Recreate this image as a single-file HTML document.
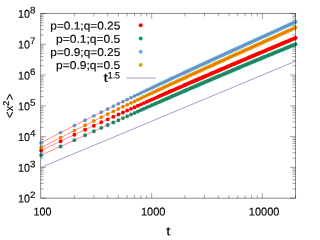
<!DOCTYPE html>
<html><head><meta charset="utf-8"><title>plot</title>
<style>
html,body{margin:0;padding:0;background:#fff;}
body{width:320px;height:240px;overflow:hidden;}
svg{display:block;will-change:transform;filter:brightness(1);}
text{font-family:"Liberation Sans",sans-serif;fill:#000;stroke:#000;stroke-width:0.13px;}
</style></head><body>
<svg width="320" height="240" viewBox="0 0 320 240">
<rect width="320" height="240" fill="#fff"/>
<path d="M40.65 198.20h5.5M295.5 198.20h-5.5M40.65 188.93h3.0M295.5 188.93h-3.0M40.65 183.51h3.0M295.5 183.51h-3.0M40.65 179.66h3.0M295.5 179.66h-3.0M40.65 176.68h3.0M295.5 176.68h-3.0M40.65 174.24h3.0M295.5 174.24h-3.0M40.65 172.18h3.0M295.5 172.18h-3.0M40.65 170.39h3.0M295.5 170.39h-3.0M40.65 168.82h3.0M295.5 168.82h-3.0M40.65 167.41h5.5M295.5 167.41h-5.5M40.65 158.14h3.0M295.5 158.14h-3.0M40.65 152.72h3.0M295.5 152.72h-3.0M40.65 148.87h3.0M295.5 148.87h-3.0M40.65 145.89h3.0M295.5 145.89h-3.0M40.65 143.45h3.0M295.5 143.45h-3.0M40.65 141.39h3.0M295.5 141.39h-3.0M40.65 139.60h3.0M295.5 139.60h-3.0M40.65 138.03h3.0M295.5 138.03h-3.0M40.65 136.62h5.5M295.5 136.62h-5.5M40.65 127.35h3.0M295.5 127.35h-3.0M40.65 121.93h3.0M295.5 121.93h-3.0M40.65 118.08h3.0M295.5 118.08h-3.0M40.65 115.09h3.0M295.5 115.09h-3.0M40.65 112.66h3.0M295.5 112.66h-3.0M40.65 110.59h3.0M295.5 110.59h-3.0M40.65 108.81h3.0M295.5 108.81h-3.0M40.65 107.23h3.0M295.5 107.23h-3.0M40.65 105.82h5.5M295.5 105.82h-5.5M40.65 96.56h3.0M295.5 96.56h-3.0M40.65 91.13h3.0M295.5 91.13h-3.0M40.65 87.29h3.0M295.5 87.29h-3.0M40.65 84.30h3.0M295.5 84.30h-3.0M40.65 81.86h3.0M295.5 81.86h-3.0M40.65 79.80h3.0M295.5 79.80h-3.0M40.65 78.02h3.0M295.5 78.02h-3.0M40.65 76.44h3.0M295.5 76.44h-3.0M40.65 75.03h5.5M295.5 75.03h-5.5M40.65 65.76h3.0M295.5 65.76h-3.0M40.65 60.34h3.0M295.5 60.34h-3.0M40.65 56.49h3.0M295.5 56.49h-3.0M40.65 53.51h3.0M295.5 53.51h-3.0M40.65 51.07h3.0M295.5 51.07h-3.0M40.65 49.01h3.0M295.5 49.01h-3.0M40.65 47.23h3.0M295.5 47.23h-3.0M40.65 45.65h3.0M295.5 45.65h-3.0M40.65 44.24h5.5M295.5 44.24h-5.5M40.65 34.97h3.0M295.5 34.97h-3.0M40.65 29.55h3.0M295.5 29.55h-3.0M40.65 25.70h3.0M295.5 25.70h-3.0M40.65 22.72h3.0M295.5 22.72h-3.0M40.65 20.28h3.0M295.5 20.28h-3.0M40.65 18.22h3.0M295.5 18.22h-3.0M40.65 16.43h3.0M295.5 16.43h-3.0M40.65 14.86h3.0M295.5 14.86h-3.0M40.65 13.45h5.5M295.5 13.45h-5.5M74.39 198.2v-3.0M74.39 13.45v3.0M93.87 198.2v-3.0M93.87 13.45v3.0M107.69 198.2v-3.0M107.69 13.45v3.0M118.41 198.2v-3.0M118.41 13.45v3.0M127.17 198.2v-3.0M127.17 13.45v3.0M134.57 198.2v-3.0M134.57 13.45v3.0M140.98 198.2v-3.0M140.98 13.45v3.0M146.64 198.2v-3.0M146.64 13.45v3.0M151.70 198.2v-5.5M151.70 13.45v5.5M185.00 198.2v-3.0M185.00 13.45v3.0M204.47 198.2v-3.0M204.47 13.45v3.0M218.29 198.2v-3.0M218.29 13.45v3.0M229.01 198.2v-3.0M229.01 13.45v3.0M237.77 198.2v-3.0M237.77 13.45v3.0M245.17 198.2v-3.0M245.17 13.45v3.0M251.59 198.2v-3.0M251.59 13.45v3.0M257.24 198.2v-3.0M257.24 13.45v3.0M262.31 198.2v-5.5M262.31 13.45v5.5M295.60 198.2v-3.0M295.60 13.45v3.0" stroke="#000" stroke-opacity="0.45" stroke-width="0.8" fill="none"/>
<path fill="#ff0000" d="M39.15 150.43a1.95 1.95 0 1 0 3.9 0a1.95 1.95 0 1 0 -3.9 0zM58.63 141.18a1.95 1.95 0 1 0 3.9 0a1.95 1.95 0 1 0 -3.9 0zM72.44 134.71a1.95 1.95 0 1 0 3.9 0a1.95 1.95 0 1 0 -3.9 0zM83.16 129.73a1.95 1.95 0 1 0 3.9 0a1.95 1.95 0 1 0 -3.9 0zM91.92 125.69a1.95 1.95 0 1 0 3.9 0a1.95 1.95 0 1 0 -3.9 0zM99.33 122.30a1.95 1.95 0 1 0 3.9 0a1.95 1.95 0 1 0 -3.9 0zM105.74 119.37a1.95 1.95 0 1 0 3.9 0a1.95 1.95 0 1 0 -3.9 0zM111.40 116.80a1.95 1.95 0 1 0 3.9 0a1.95 1.95 0 1 0 -3.9 0zM116.46 114.51a1.95 1.95 0 1 0 3.9 0a1.95 1.95 0 1 0 -3.9 0zM121.04 112.45a1.95 1.95 0 1 0 3.9 0a1.95 1.95 0 1 0 -3.9 0zM125.22 110.57a1.95 1.95 0 1 0 3.9 0a1.95 1.95 0 1 0 -3.9 0zM129.06 108.84a1.95 1.95 0 1 0 3.9 0a1.95 1.95 0 1 0 -3.9 0zM132.62 107.25a1.95 1.95 0 1 0 3.9 0a1.95 1.95 0 1 0 -3.9 0zM135.93 105.77a1.95 1.95 0 1 0 3.9 0a1.95 1.95 0 1 0 -3.9 0zM139.03 104.38a1.95 1.95 0 1 0 3.9 0a1.95 1.95 0 1 0 -3.9 0zM141.95 103.09a1.95 1.95 0 1 0 3.9 0a1.95 1.95 0 1 0 -3.9 0zM144.69 101.87a1.95 1.95 0 1 0 3.9 0a1.95 1.95 0 1 0 -3.9 0zM147.29 100.72a1.95 1.95 0 1 0 3.9 0a1.95 1.95 0 1 0 -3.9 0zM149.75 99.62a1.95 1.95 0 1 0 3.9 0a1.95 1.95 0 1 0 -3.9 0zM152.10 98.59a1.95 1.95 0 1 0 3.9 0a1.95 1.95 0 1 0 -3.9 0zM154.33 97.60a1.95 1.95 0 1 0 3.9 0a1.95 1.95 0 1 0 -3.9 0zM156.47 96.66a1.95 1.95 0 1 0 3.9 0a1.95 1.95 0 1 0 -3.9 0zM158.51 95.76a1.95 1.95 0 1 0 3.9 0a1.95 1.95 0 1 0 -3.9 0zM160.47 94.89a1.95 1.95 0 1 0 3.9 0a1.95 1.95 0 1 0 -3.9 0zM162.36 94.06a1.95 1.95 0 1 0 3.9 0a1.95 1.95 0 1 0 -3.9 0zM164.17 93.27a1.95 1.95 0 1 0 3.9 0a1.95 1.95 0 1 0 -3.9 0zM165.91 92.50a1.95 1.95 0 1 0 3.9 0a1.95 1.95 0 1 0 -3.9 0zM167.60 91.76a1.95 1.95 0 1 0 3.9 0a1.95 1.95 0 1 0 -3.9 0zM169.23 91.05a1.95 1.95 0 1 0 3.9 0a1.95 1.95 0 1 0 -3.9 0zM170.80 90.36a1.95 1.95 0 1 0 3.9 0a1.95 1.95 0 1 0 -3.9 0zM172.33 89.69a1.95 1.95 0 1 0 3.9 0a1.95 1.95 0 1 0 -3.9 0zM173.81 89.04a1.95 1.95 0 1 0 3.9 0a1.95 1.95 0 1 0 -3.9 0zM175.24 88.42a1.95 1.95 0 1 0 3.9 0a1.95 1.95 0 1 0 -3.9 0zM176.63 87.81a1.95 1.95 0 1 0 3.9 0a1.95 1.95 0 1 0 -3.9 0zM177.99 87.22a1.95 1.95 0 1 0 3.9 0a1.95 1.95 0 1 0 -3.9 0zM179.30 86.65a1.95 1.95 0 1 0 3.9 0a1.95 1.95 0 1 0 -3.9 0zM180.58 86.09a1.95 1.95 0 1 0 3.9 0a1.95 1.95 0 1 0 -3.9 0zM181.83 85.55a1.95 1.95 0 1 0 3.9 0a1.95 1.95 0 1 0 -3.9 0zM183.05 85.02a1.95 1.95 0 1 0 3.9 0a1.95 1.95 0 1 0 -3.9 0z"/>
<path fill="none" stroke="#ff0000" stroke-width="3.9" stroke-linecap="round" stroke-linejoin="round" d="M185.00 85.02L190.65 82.56L195.72 80.37L200.29 78.39L204.47 76.59L208.32 74.93L211.88 73.40L215.19 71.98L218.29 70.65L221.20 69.40L223.95 68.23L226.55 67.12L229.01 66.06L231.35 65.07L233.59 64.11L235.72 63.20L237.77 62.33L239.73 61.50L241.61 60.70L243.43 59.93L245.17 59.19L246.86 58.47L248.49 57.78L250.06 57.12L251.59 56.47L253.06 55.85L254.50 55.24L255.89 54.65L257.24 54.08L258.56 53.52L259.84 52.98L261.09 52.45L262.31 51.94L263.49 51.44L264.65 50.95L265.78 50.48L266.88 50.01L267.96 49.56L269.02 49.11L270.05 48.68L271.06 48.25L272.05 47.83L273.02 47.42L273.97 47.02L274.91 46.63L275.82 46.25L276.72 45.87L277.60 45.50L278.47 45.14L279.32 44.78L280.15 44.43L280.97 44.08L281.78 43.74L282.58 43.41L283.36 43.08L284.13 42.76L284.88 42.44L285.63 42.13L286.36 41.82L287.08 41.52L287.79 41.22L288.49 40.93L289.19 40.64L289.87 40.35L290.54 40.07L291.20 39.79L291.86 39.52L292.50 39.25L293.14 38.98L293.76 38.72L294.38 38.46L295.00 38.20L295.60 37.95"/>
<path d="M41.10 150.43L60.58 141.18L74.39 134.71L85.11 129.73L93.87 125.69L101.28 122.30L107.69 119.37L113.35 116.80L118.41 114.51L122.99 112.45L127.17 110.57L131.01 108.84L134.57 107.25L137.88 105.77L140.98 104.38L143.90 103.09L146.64 101.87L149.24 100.72L151.70 99.62L154.05 98.59L156.28 97.60L158.42 96.66L160.46 95.76L162.42 94.89L164.31 94.06L166.12 93.27L167.86 92.50L169.55 91.76L171.18 91.05L172.75 90.36L174.28 89.69L175.76 89.04L177.19 88.42L178.58 87.81L179.94 87.22L181.25 86.65L182.53 86.09L183.78 85.55L185.00 85.02L186.18 84.50L187.34 84.00L195.72 80.37L202.85 77.29L209.05 74.61L214.55 72.25L219.48 70.14L223.95 68.23L228.04 66.48L231.81 64.87L235.30 63.38L238.56 62.00L241.61 60.70L244.48 59.48L247.19 58.33L249.75 57.25L252.18 56.22L254.50 55.24L256.71 54.30L258.82 53.41L260.84 52.56L262.78 51.74L264.65 50.95L266.44 50.20L268.18 49.47L269.85 48.76L271.46 48.08L273.02 47.42L274.54 46.79L276.00 46.17L277.43 45.57L278.81 44.99L280.15 44.43L281.46 43.88L282.73 43.34L283.97 42.82L285.18 42.32L286.36 41.82L287.51 41.34L288.63 40.87L289.73 40.41L290.81 39.96L291.86 39.52L292.88 39.09L293.89 38.67L294.87 38.25L295.60 37.95" stroke="#ff0000" stroke-opacity="0.9" stroke-width="0.5" fill="none"/>
<path fill="#009e73" d="M39.15 155.28a1.95 1.95 0 1 0 3.9 0a1.95 1.95 0 1 0 -3.9 0zM58.63 146.45a1.95 1.95 0 1 0 3.9 0a1.95 1.95 0 1 0 -3.9 0zM72.44 140.15a1.95 1.95 0 1 0 3.9 0a1.95 1.95 0 1 0 -3.9 0zM83.16 135.26a1.95 1.95 0 1 0 3.9 0a1.95 1.95 0 1 0 -3.9 0zM91.92 131.28a1.95 1.95 0 1 0 3.9 0a1.95 1.95 0 1 0 -3.9 0zM99.33 127.92a1.95 1.95 0 1 0 3.9 0a1.95 1.95 0 1 0 -3.9 0zM105.74 125.01a1.95 1.95 0 1 0 3.9 0a1.95 1.95 0 1 0 -3.9 0zM111.40 122.46a1.95 1.95 0 1 0 3.9 0a1.95 1.95 0 1 0 -3.9 0zM116.46 120.18a1.95 1.95 0 1 0 3.9 0a1.95 1.95 0 1 0 -3.9 0zM121.04 118.12a1.95 1.95 0 1 0 3.9 0a1.95 1.95 0 1 0 -3.9 0zM125.22 116.25a1.95 1.95 0 1 0 3.9 0a1.95 1.95 0 1 0 -3.9 0zM129.06 114.53a1.95 1.95 0 1 0 3.9 0a1.95 1.95 0 1 0 -3.9 0zM132.62 112.93a1.95 1.95 0 1 0 3.9 0a1.95 1.95 0 1 0 -3.9 0zM135.93 111.46a1.95 1.95 0 1 0 3.9 0a1.95 1.95 0 1 0 -3.9 0zM139.03 110.08a1.95 1.95 0 1 0 3.9 0a1.95 1.95 0 1 0 -3.9 0zM141.95 108.78a1.95 1.95 0 1 0 3.9 0a1.95 1.95 0 1 0 -3.9 0zM144.69 107.56a1.95 1.95 0 1 0 3.9 0a1.95 1.95 0 1 0 -3.9 0zM147.29 106.41a1.95 1.95 0 1 0 3.9 0a1.95 1.95 0 1 0 -3.9 0zM149.75 105.32a1.95 1.95 0 1 0 3.9 0a1.95 1.95 0 1 0 -3.9 0zM152.10 104.29a1.95 1.95 0 1 0 3.9 0a1.95 1.95 0 1 0 -3.9 0zM154.33 103.30a1.95 1.95 0 1 0 3.9 0a1.95 1.95 0 1 0 -3.9 0zM156.47 102.36a1.95 1.95 0 1 0 3.9 0a1.95 1.95 0 1 0 -3.9 0zM158.51 101.46a1.95 1.95 0 1 0 3.9 0a1.95 1.95 0 1 0 -3.9 0zM160.47 100.60a1.95 1.95 0 1 0 3.9 0a1.95 1.95 0 1 0 -3.9 0zM162.36 99.77a1.95 1.95 0 1 0 3.9 0a1.95 1.95 0 1 0 -3.9 0zM164.17 98.97a1.95 1.95 0 1 0 3.9 0a1.95 1.95 0 1 0 -3.9 0zM165.91 98.21a1.95 1.95 0 1 0 3.9 0a1.95 1.95 0 1 0 -3.9 0zM167.60 97.47a1.95 1.95 0 1 0 3.9 0a1.95 1.95 0 1 0 -3.9 0zM169.23 96.75a1.95 1.95 0 1 0 3.9 0a1.95 1.95 0 1 0 -3.9 0zM170.80 96.07a1.95 1.95 0 1 0 3.9 0a1.95 1.95 0 1 0 -3.9 0zM172.33 95.40a1.95 1.95 0 1 0 3.9 0a1.95 1.95 0 1 0 -3.9 0zM173.81 94.75a1.95 1.95 0 1 0 3.9 0a1.95 1.95 0 1 0 -3.9 0zM175.24 94.13a1.95 1.95 0 1 0 3.9 0a1.95 1.95 0 1 0 -3.9 0zM176.63 93.52a1.95 1.95 0 1 0 3.9 0a1.95 1.95 0 1 0 -3.9 0zM177.99 92.93a1.95 1.95 0 1 0 3.9 0a1.95 1.95 0 1 0 -3.9 0zM179.30 92.36a1.95 1.95 0 1 0 3.9 0a1.95 1.95 0 1 0 -3.9 0zM180.58 91.80a1.95 1.95 0 1 0 3.9 0a1.95 1.95 0 1 0 -3.9 0zM181.83 91.26a1.95 1.95 0 1 0 3.9 0a1.95 1.95 0 1 0 -3.9 0zM183.05 90.73a1.95 1.95 0 1 0 3.9 0a1.95 1.95 0 1 0 -3.9 0z"/>
<path fill="none" stroke="#009e73" stroke-width="3.9" stroke-linecap="round" stroke-linejoin="round" d="M185.00 90.73L190.65 88.28L195.72 86.09L200.29 84.12L204.47 82.32L208.32 80.67L211.88 79.15L215.19 77.73L218.29 76.41L221.20 75.17L223.95 74.01L226.55 72.90L229.01 71.86L231.35 70.87L233.59 69.92L235.72 69.02L237.77 68.16L239.73 67.34L241.61 66.54L243.43 65.78L245.17 65.05L246.86 64.34L248.49 63.66L250.06 63.00L251.59 62.36L253.06 61.75L254.50 61.15L255.89 60.57L257.24 60.00L258.56 59.45L259.84 58.92L261.09 58.40L262.31 57.90L263.49 57.40L264.65 56.92L265.78 56.45L266.88 56.00L267.96 55.55L269.02 55.11L270.05 54.68L271.06 54.27L272.05 53.86L273.02 53.46L273.97 53.06L274.91 52.68L275.82 52.30L276.72 51.93L277.60 51.57L278.47 51.21L279.32 50.86L280.15 50.52L280.97 50.18L281.78 49.85L282.58 49.52L283.36 49.20L284.13 48.88L284.88 48.57L285.63 48.27L286.36 47.97L287.08 47.67L287.79 47.38L288.49 47.09L289.19 46.81L289.87 46.53L290.54 46.26L291.20 45.99L291.86 45.72L292.50 45.46L293.14 45.20L293.76 44.94L294.38 44.69L295.00 44.44L295.60 44.19"/>
<path d="M41.10 155.28L60.58 146.45L74.39 140.15L85.11 135.26L93.87 131.28L101.28 127.92L107.69 125.01L113.35 122.46L118.41 120.18L122.99 118.12L127.17 116.25L131.01 114.53L134.57 112.93L137.88 111.46L140.98 110.08L143.90 108.78L146.64 107.56L149.24 106.41L151.70 105.32L154.05 104.29L156.28 103.30L158.42 102.36L160.46 101.46L162.42 100.60L164.31 99.77L166.12 98.97L167.86 98.21L169.55 97.47L171.18 96.75L172.75 96.07L174.28 95.40L175.76 94.75L177.19 94.13L178.58 93.52L179.94 92.93L181.25 92.36L182.53 91.80L183.78 91.26L185.00 90.73L186.18 90.22L187.34 89.71L195.72 86.09L202.85 83.02L209.05 80.36L214.55 78.01L219.48 75.91L223.95 74.01L228.04 72.27L231.81 70.68L235.30 69.20L238.56 67.83L241.61 66.54L244.48 65.34L247.19 64.20L249.75 63.13L252.18 62.11L254.50 61.15L256.71 60.23L258.82 59.35L260.84 58.50L262.78 57.70L264.65 56.92L266.44 56.18L268.18 55.46L269.85 54.77L271.46 54.10L273.02 53.46L274.54 52.83L276.00 52.23L277.43 51.64L278.81 51.07L280.15 50.52L281.46 49.98L282.73 49.46L283.97 48.95L285.18 48.45L286.36 47.97L287.51 47.50L288.63 47.04L289.73 46.59L290.81 46.15L291.86 45.72L292.88 45.30L293.89 44.89L294.87 44.49L295.60 44.19" stroke="#ff0000" stroke-opacity="0.9" stroke-width="0.5" fill="none"/>
<path fill="#56b4e9" d="M39.15 142.73a1.95 1.95 0 1 0 3.9 0a1.95 1.95 0 1 0 -3.9 0zM58.63 132.61a1.95 1.95 0 1 0 3.9 0a1.95 1.95 0 1 0 -3.9 0zM72.44 125.57a1.95 1.95 0 1 0 3.9 0a1.95 1.95 0 1 0 -3.9 0zM83.16 120.18a1.95 1.95 0 1 0 3.9 0a1.95 1.95 0 1 0 -3.9 0zM91.92 115.83a1.95 1.95 0 1 0 3.9 0a1.95 1.95 0 1 0 -3.9 0zM99.33 112.17a1.95 1.95 0 1 0 3.9 0a1.95 1.95 0 1 0 -3.9 0zM105.74 109.03a1.95 1.95 0 1 0 3.9 0a1.95 1.95 0 1 0 -3.9 0zM111.40 106.27a1.95 1.95 0 1 0 3.9 0a1.95 1.95 0 1 0 -3.9 0zM116.46 103.81a1.95 1.95 0 1 0 3.9 0a1.95 1.95 0 1 0 -3.9 0zM121.04 101.60a1.95 1.95 0 1 0 3.9 0a1.95 1.95 0 1 0 -3.9 0zM125.22 99.59a1.95 1.95 0 1 0 3.9 0a1.95 1.95 0 1 0 -3.9 0zM129.06 97.75a1.95 1.95 0 1 0 3.9 0a1.95 1.95 0 1 0 -3.9 0zM132.62 96.05a1.95 1.95 0 1 0 3.9 0a1.95 1.95 0 1 0 -3.9 0zM135.93 94.46a1.95 1.95 0 1 0 3.9 0a1.95 1.95 0 1 0 -3.9 0zM139.03 92.99a1.95 1.95 0 1 0 3.9 0a1.95 1.95 0 1 0 -3.9 0zM141.95 91.61a1.95 1.95 0 1 0 3.9 0a1.95 1.95 0 1 0 -3.9 0zM144.69 90.31a1.95 1.95 0 1 0 3.9 0a1.95 1.95 0 1 0 -3.9 0zM147.29 89.08a1.95 1.95 0 1 0 3.9 0a1.95 1.95 0 1 0 -3.9 0zM149.75 87.92a1.95 1.95 0 1 0 3.9 0a1.95 1.95 0 1 0 -3.9 0zM152.10 86.81a1.95 1.95 0 1 0 3.9 0a1.95 1.95 0 1 0 -3.9 0zM154.33 85.76a1.95 1.95 0 1 0 3.9 0a1.95 1.95 0 1 0 -3.9 0zM156.47 84.76a1.95 1.95 0 1 0 3.9 0a1.95 1.95 0 1 0 -3.9 0zM158.51 83.80a1.95 1.95 0 1 0 3.9 0a1.95 1.95 0 1 0 -3.9 0zM160.47 82.88a1.95 1.95 0 1 0 3.9 0a1.95 1.95 0 1 0 -3.9 0zM162.36 82.00a1.95 1.95 0 1 0 3.9 0a1.95 1.95 0 1 0 -3.9 0zM164.17 81.15a1.95 1.95 0 1 0 3.9 0a1.95 1.95 0 1 0 -3.9 0zM165.91 80.33a1.95 1.95 0 1 0 3.9 0a1.95 1.95 0 1 0 -3.9 0zM167.60 79.55a1.95 1.95 0 1 0 3.9 0a1.95 1.95 0 1 0 -3.9 0zM169.23 78.79a1.95 1.95 0 1 0 3.9 0a1.95 1.95 0 1 0 -3.9 0zM170.80 78.06a1.95 1.95 0 1 0 3.9 0a1.95 1.95 0 1 0 -3.9 0zM172.33 77.35a1.95 1.95 0 1 0 3.9 0a1.95 1.95 0 1 0 -3.9 0zM173.81 76.66a1.95 1.95 0 1 0 3.9 0a1.95 1.95 0 1 0 -3.9 0zM175.24 75.99a1.95 1.95 0 1 0 3.9 0a1.95 1.95 0 1 0 -3.9 0zM176.63 75.35a1.95 1.95 0 1 0 3.9 0a1.95 1.95 0 1 0 -3.9 0zM177.99 74.72a1.95 1.95 0 1 0 3.9 0a1.95 1.95 0 1 0 -3.9 0zM179.30 74.11a1.95 1.95 0 1 0 3.9 0a1.95 1.95 0 1 0 -3.9 0zM180.58 73.51a1.95 1.95 0 1 0 3.9 0a1.95 1.95 0 1 0 -3.9 0zM181.83 72.94a1.95 1.95 0 1 0 3.9 0a1.95 1.95 0 1 0 -3.9 0zM183.05 72.37a1.95 1.95 0 1 0 3.9 0a1.95 1.95 0 1 0 -3.9 0z"/>
<path fill="none" stroke="#56b4e9" stroke-width="3.9" stroke-linecap="round" stroke-linejoin="round" d="M185.00 72.37L190.65 69.76L195.72 67.43L200.29 65.32L204.47 63.40L208.32 61.64L211.88 60.01L215.19 58.50L218.29 57.08L221.20 55.75L223.95 54.50L226.55 53.31L229.01 52.19L231.35 51.12L233.59 50.10L235.72 49.13L237.77 48.20L239.73 47.31L241.61 46.45L243.43 45.63L245.17 44.83L246.86 44.07L248.49 43.33L250.06 42.61L251.59 41.92L253.06 41.25L254.50 40.59L255.89 39.96L257.24 39.35L258.56 38.75L259.84 38.17L261.09 37.60L262.31 37.05L263.49 36.51L264.65 35.98L265.78 35.47L266.88 34.97L267.96 34.47L269.02 33.99L270.05 33.53L271.06 33.07L272.05 32.62L273.02 32.17L273.97 31.74L274.91 31.32L275.82 30.90L276.72 30.49L277.60 30.09L278.47 29.70L279.32 29.31L280.15 28.93L280.97 28.56L281.78 28.19L282.58 27.83L283.36 27.47L284.13 27.12L284.88 26.78L285.63 26.44L286.36 26.10L287.08 25.78L287.79 25.45L288.49 25.13L289.19 24.82L289.87 24.51L290.54 24.20L291.20 23.90L291.86 23.60L292.50 23.30L293.14 23.01L293.76 22.73L294.38 22.45L295.00 22.17L295.60 21.89"/>
<path d="M41.10 142.73L60.58 132.61L74.39 125.57L85.11 120.18L93.87 115.83L101.28 112.17L107.69 109.03L113.35 106.27L118.41 103.81L122.99 101.60L127.17 99.59L131.01 97.75L134.57 96.05L137.88 94.46L140.98 92.99L143.90 91.61L146.64 90.31L149.24 89.08L151.70 87.92L154.05 86.81L156.28 85.76L158.42 84.76L160.46 83.80L162.42 82.88L164.31 82.00L166.12 81.15L167.86 80.33L169.55 79.55L171.18 78.79L172.75 78.06L174.28 77.35L175.76 76.66L177.19 75.99L178.58 75.35L179.94 74.72L181.25 74.11L182.53 73.51L183.78 72.94L185.00 72.37L186.18 71.83L187.34 71.29L195.72 67.43L202.85 64.15L209.05 61.31L214.55 58.79L219.48 56.54L223.95 54.50L228.04 52.63L231.81 50.91L235.30 49.32L238.56 47.84L241.61 46.45L244.48 45.15L247.19 43.92L249.75 42.75L252.18 41.65L254.50 40.59L256.71 39.59L258.82 38.63L260.84 37.71L262.78 36.83L264.65 35.98L266.44 35.16L268.18 34.38L269.85 33.62L271.46 32.88L273.02 32.17L274.54 31.49L276.00 30.82L277.43 30.17L278.81 29.54L280.15 28.93L281.46 28.34L282.73 27.76L283.97 27.19L285.18 26.64L286.36 26.10L287.51 25.58L288.63 25.07L289.73 24.57L290.81 24.08L291.86 23.60L292.88 23.13L293.89 22.67L294.87 22.22L295.60 21.89" stroke="#ff0000" stroke-opacity="0.9" stroke-width="0.5" fill="none"/>
<path fill="#e69f00" d="M39.15 147.67a1.95 1.95 0 1 0 3.9 0a1.95 1.95 0 1 0 -3.9 0zM58.63 137.60a1.95 1.95 0 1 0 3.9 0a1.95 1.95 0 1 0 -3.9 0zM72.44 130.60a1.95 1.95 0 1 0 3.9 0a1.95 1.95 0 1 0 -3.9 0zM83.16 125.24a1.95 1.95 0 1 0 3.9 0a1.95 1.95 0 1 0 -3.9 0zM91.92 120.90a1.95 1.95 0 1 0 3.9 0a1.95 1.95 0 1 0 -3.9 0zM99.33 117.27a1.95 1.95 0 1 0 3.9 0a1.95 1.95 0 1 0 -3.9 0zM105.74 114.14a1.95 1.95 0 1 0 3.9 0a1.95 1.95 0 1 0 -3.9 0zM111.40 111.39a1.95 1.95 0 1 0 3.9 0a1.95 1.95 0 1 0 -3.9 0zM116.46 108.95a1.95 1.95 0 1 0 3.9 0a1.95 1.95 0 1 0 -3.9 0zM121.04 106.75a1.95 1.95 0 1 0 3.9 0a1.95 1.95 0 1 0 -3.9 0zM125.22 104.75a1.95 1.95 0 1 0 3.9 0a1.95 1.95 0 1 0 -3.9 0zM129.06 102.92a1.95 1.95 0 1 0 3.9 0a1.95 1.95 0 1 0 -3.9 0zM132.62 101.22a1.95 1.95 0 1 0 3.9 0a1.95 1.95 0 1 0 -3.9 0zM135.93 99.65a1.95 1.95 0 1 0 3.9 0a1.95 1.95 0 1 0 -3.9 0zM139.03 98.19a1.95 1.95 0 1 0 3.9 0a1.95 1.95 0 1 0 -3.9 0zM141.95 96.81a1.95 1.95 0 1 0 3.9 0a1.95 1.95 0 1 0 -3.9 0zM144.69 95.52a1.95 1.95 0 1 0 3.9 0a1.95 1.95 0 1 0 -3.9 0zM147.29 94.30a1.95 1.95 0 1 0 3.9 0a1.95 1.95 0 1 0 -3.9 0zM149.75 93.14a1.95 1.95 0 1 0 3.9 0a1.95 1.95 0 1 0 -3.9 0zM152.10 92.04a1.95 1.95 0 1 0 3.9 0a1.95 1.95 0 1 0 -3.9 0zM154.33 91.00a1.95 1.95 0 1 0 3.9 0a1.95 1.95 0 1 0 -3.9 0zM156.47 90.00a1.95 1.95 0 1 0 3.9 0a1.95 1.95 0 1 0 -3.9 0zM158.51 89.04a1.95 1.95 0 1 0 3.9 0a1.95 1.95 0 1 0 -3.9 0zM160.47 88.13a1.95 1.95 0 1 0 3.9 0a1.95 1.95 0 1 0 -3.9 0zM162.36 87.25a1.95 1.95 0 1 0 3.9 0a1.95 1.95 0 1 0 -3.9 0zM164.17 86.41a1.95 1.95 0 1 0 3.9 0a1.95 1.95 0 1 0 -3.9 0zM165.91 85.60a1.95 1.95 0 1 0 3.9 0a1.95 1.95 0 1 0 -3.9 0zM167.60 84.82a1.95 1.95 0 1 0 3.9 0a1.95 1.95 0 1 0 -3.9 0zM169.23 84.06a1.95 1.95 0 1 0 3.9 0a1.95 1.95 0 1 0 -3.9 0zM170.80 83.33a1.95 1.95 0 1 0 3.9 0a1.95 1.95 0 1 0 -3.9 0zM172.33 82.63a1.95 1.95 0 1 0 3.9 0a1.95 1.95 0 1 0 -3.9 0zM173.81 81.95a1.95 1.95 0 1 0 3.9 0a1.95 1.95 0 1 0 -3.9 0zM175.24 81.28a1.95 1.95 0 1 0 3.9 0a1.95 1.95 0 1 0 -3.9 0zM176.63 80.64a1.95 1.95 0 1 0 3.9 0a1.95 1.95 0 1 0 -3.9 0zM177.99 80.02a1.95 1.95 0 1 0 3.9 0a1.95 1.95 0 1 0 -3.9 0zM179.30 79.41a1.95 1.95 0 1 0 3.9 0a1.95 1.95 0 1 0 -3.9 0zM180.58 78.82a1.95 1.95 0 1 0 3.9 0a1.95 1.95 0 1 0 -3.9 0zM181.83 78.25a1.95 1.95 0 1 0 3.9 0a1.95 1.95 0 1 0 -3.9 0zM183.05 77.69a1.95 1.95 0 1 0 3.9 0a1.95 1.95 0 1 0 -3.9 0z"/>
<path fill="none" stroke="#e69f00" stroke-width="3.9" stroke-linecap="round" stroke-linejoin="round" d="M185.00 77.69L190.65 75.09L195.72 72.77L200.29 70.68L204.47 68.77L208.32 67.02L211.88 65.40L215.19 63.90L218.29 62.49L221.20 61.17L223.95 59.93L226.55 58.75L229.01 57.64L231.35 56.58L233.59 55.57L235.72 54.60L237.77 53.68L239.73 52.79L241.61 51.94L243.43 51.12L245.17 50.34L246.86 49.58L248.49 48.84L250.06 48.13L251.59 47.44L253.06 46.78L254.50 46.13L255.89 45.50L257.24 44.89L258.56 44.30L259.84 43.72L261.09 43.16L262.31 42.61L263.49 42.08L264.65 41.56L265.78 41.05L266.88 40.55L267.96 40.06L269.02 39.59L270.05 39.12L271.06 38.66L272.05 38.22L273.02 37.78L273.97 37.35L274.91 36.93L275.82 36.52L276.72 36.11L277.60 35.72L278.47 35.33L279.32 34.94L280.15 34.57L280.97 34.20L281.78 33.83L282.58 33.47L283.36 33.12L284.13 32.77L284.88 32.43L285.63 32.10L286.36 31.76L287.08 31.44L287.79 31.12L288.49 30.80L289.19 30.49L289.87 30.18L290.54 29.88L291.20 29.58L291.86 29.28L292.50 28.99L293.14 28.70L293.76 28.42L294.38 28.14L295.00 27.86L295.60 27.59"/>
<path d="M41.10 147.67L60.58 137.60L74.39 130.60L85.11 125.24L93.87 120.90L101.28 117.27L107.69 114.14L113.35 111.39L118.41 108.95L122.99 106.75L127.17 104.75L131.01 102.92L134.57 101.22L137.88 99.65L140.98 98.19L143.90 96.81L146.64 95.52L149.24 94.30L151.70 93.14L154.05 92.04L156.28 91.00L158.42 90.00L160.46 89.04L162.42 88.13L164.31 87.25L166.12 86.41L167.86 85.60L169.55 84.82L171.18 84.06L172.75 83.33L174.28 82.63L175.76 81.95L177.19 81.28L178.58 80.64L179.94 80.02L181.25 79.41L182.53 78.82L183.78 78.25L185.00 77.69L186.18 77.14L187.34 76.61L195.72 72.77L202.85 69.52L209.05 66.69L214.55 64.19L219.48 61.95L223.95 59.93L228.04 58.08L231.81 56.37L235.30 54.79L238.56 53.32L241.61 51.94L244.48 50.65L247.19 49.43L249.75 48.27L252.18 47.17L254.50 46.13L256.71 45.13L258.82 44.18L260.84 43.27L262.78 42.40L264.65 41.56L266.44 40.75L268.18 39.97L269.85 39.21L271.46 38.48L273.02 37.78L274.54 37.10L276.00 36.44L277.43 35.79L278.81 35.17L280.15 34.57L281.46 33.98L282.73 33.40L283.97 32.84L285.18 32.30L286.36 31.76L287.51 31.25L288.63 30.74L289.73 30.24L290.81 29.76L291.86 29.28L292.88 28.82L293.89 28.36L294.87 27.92L295.60 27.59" stroke="#ff0000" stroke-opacity="0.9" stroke-width="0.5" fill="none"/>
<path d="M41.1 167.41L295.6 61.13" stroke="#000088" stroke-opacity="0.95" stroke-width="0.4" fill="none"/>
<rect x="40.65" y="13.45" width="254.85" height="184.75" fill="none" stroke="#000" stroke-opacity="0.46" stroke-width="1" stroke-linejoin="round"/>
<text x="17.95" y="202.55" font-size="11.3" textLength="11.95" lengthAdjust="spacingAndGlyphs" transform="rotate(0.03 17.95 202.55)">10</text><text x="29.95" y="198.10" font-size="9.4" textLength="5.5" lengthAdjust="spacingAndGlyphs" transform="rotate(0.03 29.95 198.10)">2</text>
<text x="17.95" y="171.76" font-size="11.3" textLength="11.95" lengthAdjust="spacingAndGlyphs" transform="rotate(0.03 17.95 171.76)">10</text><text x="29.95" y="167.31" font-size="9.4" textLength="5.5" lengthAdjust="spacingAndGlyphs" transform="rotate(0.03 29.95 167.31)">3</text>
<text x="17.95" y="140.97" font-size="11.3" textLength="11.95" lengthAdjust="spacingAndGlyphs" transform="rotate(0.03 17.95 140.97)">10</text><text x="29.95" y="136.52" font-size="9.4" textLength="5.5" lengthAdjust="spacingAndGlyphs" transform="rotate(0.03 29.95 136.52)">4</text>
<text x="17.95" y="110.17" font-size="11.3" textLength="11.95" lengthAdjust="spacingAndGlyphs" transform="rotate(0.03 17.95 110.17)">10</text><text x="29.95" y="105.72" font-size="9.4" textLength="5.5" lengthAdjust="spacingAndGlyphs" transform="rotate(0.03 29.95 105.72)">5</text>
<text x="17.95" y="79.38" font-size="11.3" textLength="11.95" lengthAdjust="spacingAndGlyphs" transform="rotate(0.03 17.95 79.38)">10</text><text x="29.95" y="74.93" font-size="9.4" textLength="5.5" lengthAdjust="spacingAndGlyphs" transform="rotate(0.03 29.95 74.93)">6</text>
<text x="17.95" y="48.59" font-size="11.3" textLength="11.95" lengthAdjust="spacingAndGlyphs" transform="rotate(0.03 17.95 48.59)">10</text><text x="29.95" y="44.14" font-size="9.4" textLength="5.5" lengthAdjust="spacingAndGlyphs" transform="rotate(0.03 29.95 44.14)">7</text>
<text x="17.95" y="17.80" font-size="11.3" textLength="11.95" lengthAdjust="spacingAndGlyphs" transform="rotate(0.03 17.95 17.80)">10</text><text x="29.95" y="13.35" font-size="9.4" textLength="5.5" lengthAdjust="spacingAndGlyphs" transform="rotate(0.03 29.95 13.35)">8</text>
<text x="33.5" y="215.45" font-size="11.3" textLength="17.85" lengthAdjust="spacingAndGlyphs" transform="rotate(0.03 33.5 215.45)">100</text>
<text x="140.95" y="215.45" font-size="11.3" textLength="24.55" lengthAdjust="spacingAndGlyphs" transform="rotate(0.03 140.95 215.45)">1000</text>
<text x="248.85" y="215.45" font-size="11.3" textLength="30.6" lengthAdjust="spacingAndGlyphs" transform="rotate(0.03 248.85 215.45)">10000</text>
<text stroke="none" x="166.35" y="235.25" font-size="12.2" textLength="4.2" lengthAdjust="spacingAndGlyphs" transform="rotate(0.03 166.35 235.25)">t</text>
<g transform="translate(13.1,117.6) rotate(-90.03)"><text x="-0.5" y="0.93" font-size="12.4" textLength="6.58" lengthAdjust="spacingAndGlyphs" transform="rotate(0.03 -0.5 0.93)">&lt;</text><text x="6.46" y="0.00" font-size="11.14" textLength="5.53" lengthAdjust="spacingAndGlyphs" transform="rotate(0.03 6.46 0.00)">x</text><text x="11.71" y="-3.70" font-size="9.0" textLength="5.43" lengthAdjust="spacingAndGlyphs" transform="rotate(0.03 11.71 -3.70)">2</text><text x="17.4" y="0.93" font-size="12.4" textLength="6.58" lengthAdjust="spacingAndGlyphs" transform="rotate(0.03 17.4 0.93)">&gt;</text></g>
<text x="50.35" y="29.45" font-size="11.3" textLength="69.9" lengthAdjust="spacingAndGlyphs" transform="rotate(0.03 50.35 29.45)">p=0.1;q=0.25</text><circle cx="140.7" cy="25.25" r="1.95" fill="#ff0000"/>
<text x="56.05" y="42.70" font-size="11.3" textLength="64.2" lengthAdjust="spacingAndGlyphs" transform="rotate(0.03 56.05 42.70)">p=0.1;q=0.5</text><circle cx="140.7" cy="38.50" r="1.95" fill="#009e73"/>
<text x="50.35" y="55.95" font-size="11.3" textLength="69.9" lengthAdjust="spacingAndGlyphs" transform="rotate(0.03 50.35 55.95)">p=0.9;q=0.25</text><circle cx="140.7" cy="51.75" r="1.95" fill="#56b4e9"/>
<text x="56.05" y="69.10" font-size="11.3" textLength="64.2" lengthAdjust="spacingAndGlyphs" transform="rotate(0.03 56.05 69.10)">p=0.9;q=0.5</text><circle cx="140.7" cy="64.90" r="1.95" fill="#e69f00"/>
<text stroke="none" x="103.5" y="81.80" font-size="12.2" textLength="4.5" lengthAdjust="spacingAndGlyphs" transform="rotate(0.03 103.5 81.80)">t</text><text x="107.7" y="78.40" font-size="9.3" textLength="12.4" lengthAdjust="spacingAndGlyphs" transform="rotate(0.03 107.7 78.40)">1.5</text><path d="M126.3 78.0H155.7" stroke="#000088" stroke-opacity="0.95" stroke-width="0.4" fill="none"/>
</svg>
</body></html>
